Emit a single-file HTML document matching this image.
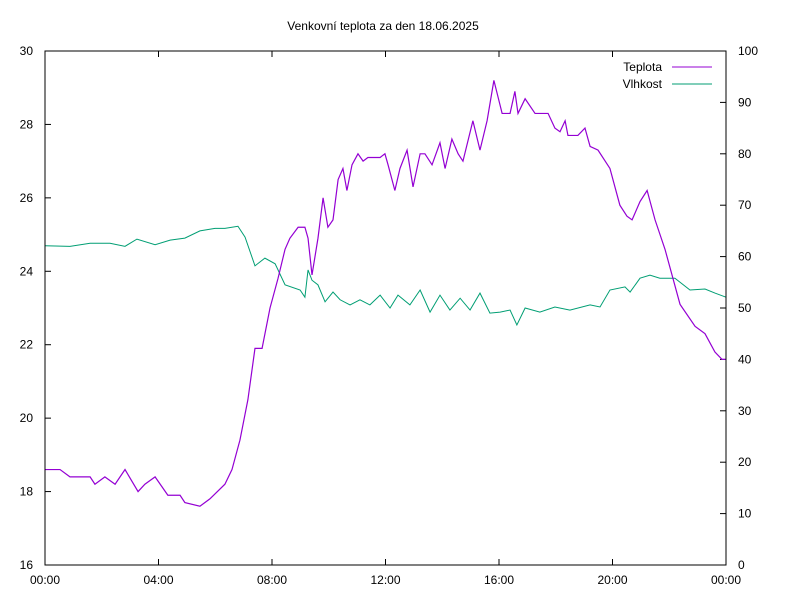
<!DOCTYPE html>
<html><head><meta charset="utf-8"><style>
body{margin:0;background:#fff}
svg{display:block;font-family:"Liberation Sans",sans-serif;font-size:12px}
</style></head><body>
<svg id="chart" width="800" height="600" viewBox="0 0 800 600">
<rect width="800" height="600" fill="#fff"/>
<text x="383" y="30" text-anchor="middle">Venkovní teplota za den 18.06.2025</text>
<g id="ticks"></g>
<g id="series"></g>
<rect x="45" y="51" width="681" height="514" fill="none" stroke="#000" stroke-width="1"/>
<g>
<text x="662" y="71" text-anchor="end">Teplota</text>
<line x1="672" y1="67" x2="712" y2="67" stroke="#9400d3"/>
<text x="662" y="88" text-anchor="end">Vlhkost</text>
<line x1="672" y1="84" x2="712" y2="84" stroke="#009e73"/>
</g>
</svg>
<script>
const xTickLabels=["00:00","04:00","08:00","12:00","16:00","20:00","00:00"];
const yTicks=[16,18,20,22,24,26,28,30];
const y2Ticks=[0,10,20,30,40,50,60,70,80,90,100];
const tempTimes=[0,0.53,0.88,1.59,1.76,2.11,2.47,2.82,3.28,3.52,3.88,4.33,4.76,4.93,5.46,5.81,6.34,6.59,6.87,7.15,7.40,7.65,7.93,8.21,8.46,8.63,8.92,9.16,9.27,9.41,9.62,9.80,9.97,10.15,10.33,10.50,10.64,10.82,11.03,11.21,11.38,11.81,11.98,12.09,12.33,12.51,12.76,12.97,13.22,13.39,13.64,13.92,14.10,14.34,14.56,14.73,15.08,15.33,15.58,15.82,16.11,16.39,16.56,16.67,16.92,17.27,17.73,17.97,18.15,18.33,18.43,18.78,19.03,19.21,19.49,19.91,20.26,20.51,20.69,20.97,21.22,21.50,21.85,22.38,22.91,23.26,23.61,23.86,24.0];
const tempValues=[18.6,18.6,18.4,18.4,18.2,18.4,18.2,18.6,18.0,18.2,18.4,17.9,17.9,17.7,17.6,17.8,18.2,18.6,19.4,20.5,21.9,21.9,23.0,23.8,24.6,24.9,25.2,25.2,24.9,23.9,24.9,26.0,25.2,25.4,26.5,26.8,26.2,26.9,27.2,27.0,27.1,27.1,27.2,26.9,26.2,26.8,27.3,26.3,27.2,27.2,26.9,27.5,26.8,27.6,27.2,27.0,28.1,27.3,28.1,29.2,28.3,28.3,28.9,28.3,28.7,28.3,28.3,27.9,27.8,28.1,27.7,27.7,27.9,27.4,27.3,26.8,25.8,25.5,25.4,25.9,26.2,25.4,24.6,23.1,22.5,22.3,21.8,21.6,21.6];
const humTimes=[0,0.88,1.59,2.29,2.82,3.24,3.88,4.41,4.93,5.46,5.99,6.34,6.80,7.05,7.40,7.75,8.11,8.46,8.99,9.16,9.27,9.41,9.62,9.87,10.15,10.40,10.75,11.10,11.45,11.81,12.16,12.44,12.86,13.22,13.57,13.92,14.27,14.63,14.98,15.33,15.68,16.04,16.39,16.63,16.92,17.44,17.97,18.50,19.21,19.56,19.91,20.44,20.62,20.97,21.32,21.67,22.20,22.73,23.26,23.61,24.0];
const humValues=[62.1,62,62.6,62.6,62,63.4,62.3,63.2,63.6,65,65.5,65.5,65.9,63.8,58.2,59.7,58.6,54.5,53.5,52.1,57.4,55.4,54.5,51.2,53.1,51.6,50.6,51.6,50.6,52.5,50,52.5,50.6,53.5,49.2,52.5,49.6,51.9,49.6,52.9,49,49.2,49.6,46.7,50,49.2,50.2,49.6,50.6,50.2,53.5,54.1,53.1,55.8,56.4,55.8,55.8,53.5,53.7,52.9,52.1];
const X0=45,X1=726,Y0=565,Y1=51;
const xs=h=>X0+(X1-X0)*h/24;
const yT=t=>Y0-(Y0-Y1)*(t-16)/14;
const yH=v=>Y0-(Y0-Y1)*v/100;
const NS="http://www.w3.org/2000/svg";
const tk=document.getElementById('ticks'),sr=document.getElementById('series');
function mk(tag,attrs,parent){const e=document.createElementNS(NS,tag);for(const k in attrs)e.setAttribute(k,attrs[k]);parent.appendChild(e);return e;}
xTickLabels.forEach((l,i)=>{const x=xs(i*4);
const a=mk('line',{x1:x,y1:Y0,x2:x,y2:Y0-6,stroke:'#000'},tk);


const b=mk('line',{x1:x,y1:Y1,x2:x,y2:Y1+6,stroke:'#000'},tk);


const t=mk('text',{x:x,y:584,'text-anchor':'middle'},tk);t.textContent=l;

});
yTicks.forEach(v=>{const y=yT(v);
const a=mk('line',{x1:X0,y1:y,x2:X0+6,y2:y,stroke:'#000'},tk);


const t=mk('text',{x:33,y:y+4,'text-anchor':'end'},tk);t.textContent=v;

});
y2Ticks.forEach(v=>{const y=yH(v);
const a=mk('line',{x1:X1,y1:y,x2:X1-6,y2:y,stroke:'#000'},tk);


const t=mk('text',{x:738,y:y+4,'text-anchor':'start'},tk);t.textContent=v;

});
const hp=mk('polyline',{points:humTimes.map((h,i)=>xs(h)+','+yH(humValues[i])).join(' '),fill:'none',stroke:'#009e73','stroke-width':1},sr);


const tp=mk('polyline',{points:tempTimes.map((h,i)=>xs(h)+','+yT(tempValues[i])).join(' '),fill:'none',stroke:'#9400d3','stroke-width':1.2},sr);


</script>
</body></html>
